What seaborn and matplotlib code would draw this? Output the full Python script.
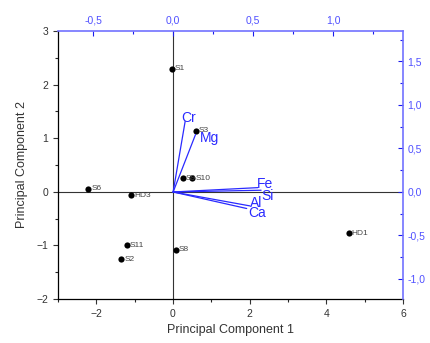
import matplotlib
matplotlib.use("Agg")
import matplotlib.pyplot as plt
from matplotlib.ticker import MultipleLocator, FuncFormatter
import seaborn as sns
import pandas as pd

# Scores (samples)
samples = ["S1", "S3", "S9", "S10", "S6", "HD3", "S11", "S2", "S8", "HD1"]
pc1 = [-0.03, 0.60, 0.26, 0.50, -2.21, -1.09, -1.20, -1.35, 0.08, 4.58]
pc2 = [2.30, 1.14, 0.25, 0.25, 0.06, -0.06, -1.00, -1.26, -1.08, -0.77]

# Loadings (variables)
variables = ["Cr", "Mg", "Fe", "Si", "Al", "Ca"]
load1 = [0.075, 0.14, 0.53, 0.55, 0.48, 0.46]
load2 = [0.81, 0.66, 0.05, 0.02, -0.16, -0.19]

sns.set_theme(style="ticks")
plt.rcParams['font.family'] = ['Liberation Sans', 'DejaVu Sans']

fig = plt.figure(figsize=(4.30, 3.43), dpi=100)
rect = [58/430, 1-299/343, (403-58)/430, (299-31)/343]
ax = fig.add_axes(rect)
ax2 = fig.add_axes(rect, frame_on=False)

scores = pd.DataFrame({"PC1": pc1, "PC2": pc2, "name": samples})
sns.scatterplot(data=scores, x="PC1", y="PC2", ax=ax, color="black", s=20,
                edgecolor="black", linewidth=0, zorder=5)
for x, y, n in zip(pc1, pc2, samples):
    ax.text(x + 0.08, y, n, fontsize=6, color="#444444", va="center", ha="left",
            zorder=6)

ax.axhline(0, color="#333333", lw=0.8, zorder=1)
ax.axvline(0, color="#333333", lw=0.8, zorder=1)
ax.set_xlim(-3, 6)
ax.set_ylim(-2, 3)
ax.xaxis.set_major_locator(MultipleLocator(2))
ax.xaxis.set_minor_locator(MultipleLocator(1))
ax.yaxis.set_major_locator(MultipleLocator(1))
ax.yaxis.set_minor_locator(MultipleLocator(0.5))
ax.set_xlabel("Principal Component 1", fontsize=9, color="#333333", labelpad=4)
ax.set_ylabel("Principal Component 2", fontsize=9, color="#333333", labelpad=6)
ax.tick_params(axis="both", which="major", labelsize=7.5, length=3.5, width=0.8,
               colors="#333333", direction="out")
ax.tick_params(axis="both", which="minor", length=2, width=0.8, direction="out")
ax.tick_params(top=False, right=False)
for s in ["left", "bottom"]:
    ax.spines[s].set_color("black")
    ax.spines[s].set_linewidth(0.9)
ax.spines["top"].set_visible(False)
ax.spines["right"].set_visible(False)

blue = "#2a2aff"
for x, y, n in zip(load1, load2, variables):
    ax2.plot([0, x], [0, y], color=blue, lw=0.9)
offsets = {"Cr": (0.025, 0.04), "Mg": (0.09, -0.04), "Fe": (0.045, 0.04),
           "Si": (0.04, -0.066), "Al": (0.04, 0.034), "Ca": (0.065, -0.05)}
for x, y, n in zip(load1, load2, variables):
    dx, dy = offsets[n]
    ax2.text(x + dx, y + dy, n, color=blue, fontsize=10, ha="center", va="center")

ax2.set_xlim(-0.72, 1.4375)
ax2.set_ylim(-1.23, 1.85)
ax2.xaxis.set_major_locator(MultipleLocator(0.5))
ax2.xaxis.set_minor_locator(MultipleLocator(0.25))
ax2.yaxis.set_major_locator(MultipleLocator(0.5))
ax2.yaxis.set_minor_locator(MultipleLocator(0.25))
comma = FuncFormatter(lambda v, p: f"{v:.1f}".replace(".", ",").replace("-0,0", "0,0"))
ax2.xaxis.set_major_formatter(comma)
ax2.yaxis.set_major_formatter(comma)
ax2.xaxis.tick_top()
ax2.yaxis.tick_right()
ax2.tick_params(axis="both", which="major", labelsize=7.5, length=3.5, width=0.8,
                colors="#1a1aee", labelcolor="#5050ff", direction="in", pad=4)
ax2.tick_params(axis="y", which="major", pad=3)
ax2.tick_params(axis="both", which="minor", length=2, width=0.8,
                colors="#1a1aee", direction="in")
ax2.set_xlabel("")
ax2.set_ylabel("")
ax2.set_frame_on(True)
ax2.patch.set_visible(False)
for s in ["top", "right"]:
    ax2.spines[s].set_visible(True)
    ax2.spines[s].set_color("#7272ff")
    ax2.spines[s].set_linewidth(1.2)
for s in ["left", "bottom"]:
    ax2.spines[s].set_visible(False)

fig.savefig("out.png", dpi=100, facecolor="white")
